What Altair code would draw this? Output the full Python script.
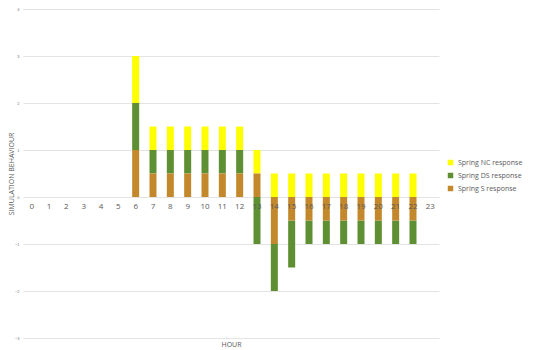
import altair as alt
import pandas as pd

hours = list(range(24))
series_names = ["Spring NC response", "Spring DS response", "Spring S response"]
nc_values = [0, 0, 0, 0, 0, 0, 1, 0.5, 0.5, 0.5, 0.5, 0.5, 0.5, 0.5, 0.5, 0.5, 0.5, 0.5, 0.5, 0.5, 0.5, 0.5, 0.5, 0]
ds_values = [0, 0, 0, 0, 0, 0, 1, 0.5, 0.5, 0.5, 0.5, 0.5, 0.5, -1, -1, -1, -0.5, -0.5, -0.5, -0.5, -0.5, -0.5, -0.5, 0]
s_values = [0, 0, 0, 0, 0, 0, 1, 0.5, 0.5, 0.5, 0.5, 0.5, 0.5, 0.5, -1, -0.5, -0.5, -0.5, -0.5, -0.5, -0.5, -0.5, -0.5, 0]
colors = ["#FFFF00", "#5E8F32", "#C4882C"]
y_ticks = [-3, -2, -1, 0, 1, 2, 3, 4]

rows = []
for i, h in enumerate(hours):
    for order, (name, vals) in enumerate(zip(series_names, [nc_values, ds_values, s_values])):
        rows.append({"hour": str(h), "series": name, "value": vals[i], "ord": 2 - order})
df = pd.DataFrame(rows)
labels_df = pd.DataFrame({"hour": [str(h) for h in hours], "zero": [0] * len(hours)})

x_enc = alt.X("hour:N", sort=[str(h) for h in hours],
              scale=alt.Scale(paddingInner=0.6, paddingOuter=0.3),
              axis=alt.Axis(title="HOUR", labels=False, ticks=False, domain=False,
                            titleFontSize=7, titleColor="#595959", titleFontWeight="normal",
                            titlePadding=2, titleFont="Open Sans"))

bars = alt.Chart(df).mark_bar(size=7).encode(
    x=x_enc,
    y=alt.Y("value:Q", stack="zero",
            scale=alt.Scale(domain=[-3, 4], nice=False),
            axis=alt.Axis(title="SIMULATION BEHAVIOUR", values=y_ticks, format="d",
                          labelFontSize=4, labelColor="#777777", domain=False, ticks=False,
                          gridColor="#E3E3E3", gridWidth=1, labelPadding=4,
                          titleFontSize=7, titleColor="#595959", titleFontWeight="normal",
                          titleFont="Open Sans", titleX=-12, titleBaseline="middle")),
    color=alt.Color("series:N",
                    scale=alt.Scale(domain=series_names, range=colors),
                    legend=alt.Legend(title=None, orient="none", legendX=424, legendY=150,
                                      symbolType="square", symbolSize=30, symbolStrokeWidth=0,
                                      labelFontSize=7, labelColor="#595959", labelFont="Open Sans",
                                      rowPadding=5)),
    order=alt.Order("ord:Q"),
)

labels = alt.Chart(labels_df).mark_text(fontSize=8, color="#595959", dy=10, font="Open Sans").encode(
    x=alt.X("hour:N", sort=[str(h) for h in hours]),
    y=alt.Y("zero:Q"),
    text="hour:N",
)

chart = alt.layer(bars, labels).properties(
    width=416, height=329,
    autosize=alt.AutoSizeParams(type="none"),
    padding={"left": 15, "top": 1, "right": 103, "bottom": 12},
).configure_view(stroke=None)

chart.save("out.html", embed_options={"renderer": "svg", "actions": False})
